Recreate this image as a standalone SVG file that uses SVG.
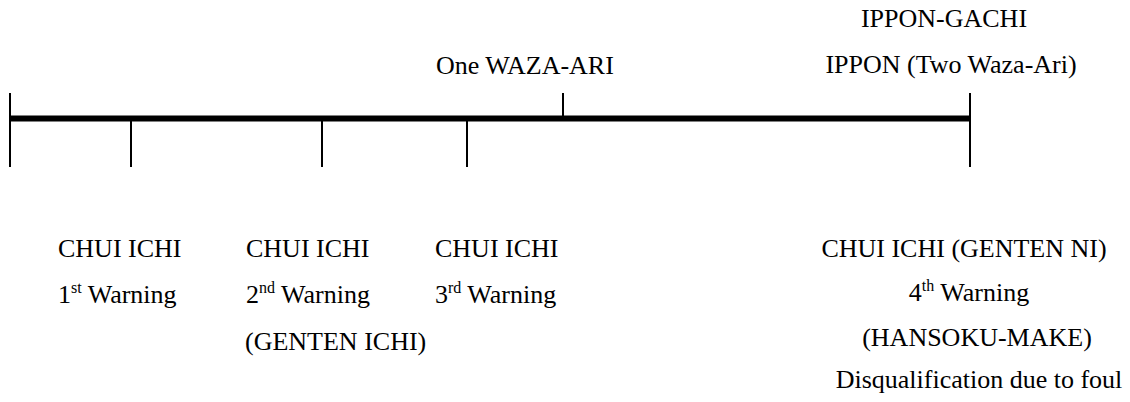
<svg xmlns="http://www.w3.org/2000/svg" width="1130" height="402" viewBox="0 0 1130 402">
<style>
text{font-family:"Liberation Serif","Times New Roman",serif;font-size:26px;fill:#000}
.sup{font-size:16px}
.tick{stroke:#000;stroke-width:2;fill:none}
.axis{stroke:#000;stroke-width:6;fill:none}
</style>
<rect width="1130" height="402" fill="#fff"/>
<g id="connectors">
<line class="axis" x1="10" y1="118.5" x2="970" y2="118.5"/>
<line class="tick" x1="10" y1="93" x2="10" y2="167"/>
<line class="tick" x1="131" y1="118" x2="131" y2="167"/>
<line class="tick" x1="322" y1="118" x2="322" y2="167"/>
<line class="tick" x1="467" y1="118" x2="467" y2="167"/>
<line class="tick" x1="563" y1="93" x2="563" y2="118"/>
<line class="tick" x1="970" y1="93" x2="970" y2="167"/>
</g>
<g id="top-labels">
<text x="436" y="74">One WAZA-ARI</text>
<text x="944" y="27" text-anchor="middle">IPPON-GACHI</text>
<text x="951" y="73" text-anchor="middle">IPPON (Two Waza-Ari)</text>
</g>
<g id="warning1">
<text x="58" y="257">CHUI ICHI</text>
<text x="58" y="303">1<tspan class="sup" dy="-10">st</tspan><tspan dy="10"> Warning</tspan></text>
</g>
<g id="warning2">
<text x="246" y="257">CHUI ICHI</text>
<text x="246" y="303">2<tspan class="sup" dy="-10">nd</tspan><tspan dy="10"> Warning</tspan></text>
<text x="245" y="350">(GENTEN ICHI)</text>
</g>
<g id="warning3">
<text x="435" y="257">CHUI ICHI</text>
<text x="435" y="303">3<tspan class="sup" dy="-10">rd</tspan><tspan dy="10"> Warning</tspan></text>
</g>
<g id="warning4">
<text x="964" y="257" text-anchor="middle">CHUI ICHI (GENTEN NI)</text>
<text x="969" y="301" text-anchor="middle">4<tspan class="sup" dy="-10">th</tspan><tspan dy="10"> Warning</tspan></text>
<text x="977" y="346" text-anchor="middle">(HANSOKU-MAKE)</text>
<text x="979" y="388" text-anchor="middle">Disqualification due to foul</text>
</g>
</svg>
